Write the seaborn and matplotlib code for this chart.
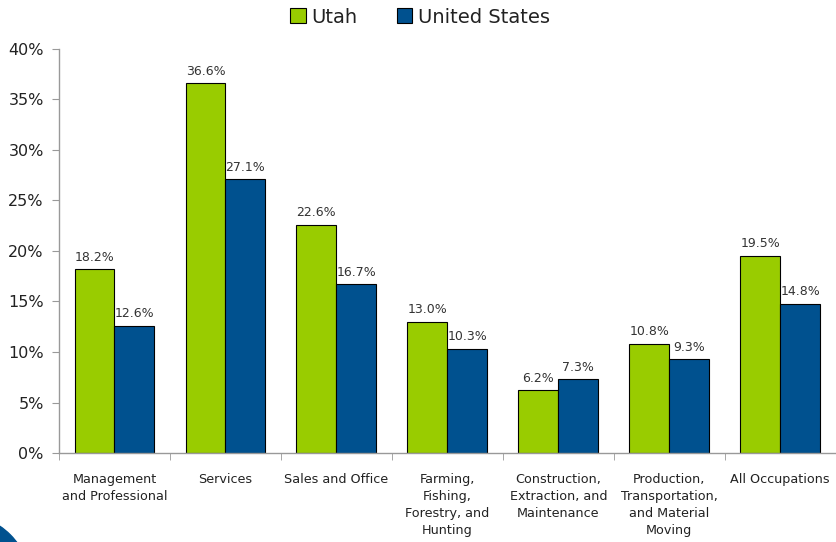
# Occupation shares: Utah vs United States

import pandas as pd
import matplotlib
matplotlib.use("Agg")
import matplotlib.pyplot as plt
import seaborn as sns
from matplotlib.ticker import FuncFormatter, FixedLocator
from matplotlib.patches import Circle
from matplotlib.transforms import IdentityTransform

categories = [
    "Management\nand Professional",
    "Services",
    "Sales and Office",
    "Farming,\nFishing,\nForestry, and\nHunting",
    "Construction,\nExtraction, and\nMaintenance",
    "Production,\nTransportation,\nand Material\nMoving",
    "All Occupations",
]
utah = [18.2, 36.6, 22.6, 13.0, 6.2, 10.8, 19.5]
us = [12.6, 27.1, 16.7, 10.3, 7.3, 9.3, 14.8]
series = ["Utah", "United States"]
colors = ["#99CC00", "#00518F"]

df = pd.DataFrame({
    "category": categories * 2,
    "value": utah + us,
    "series": [series[0]] * len(categories) + [series[1]] * len(categories),
})

sns.set_style("white")
plt.rcParams["font.family"] = ["DejaVu Sans"]

fig = plt.figure(figsize=(8.36, 5.42), dpi=100)
ax = fig.add_axes([0.0706, 0.164, 0.929, 0.746])

sns.barplot(data=df, x="category", y="value", hue="series", palette=colors,
            saturation=1, width=0.72, edgecolor="black", linewidth=0.8, ax=ax)

for cont in ax.containers:
    ax.bar_label(cont, fmt="%.1f%%", padding=4, fontsize=9, color="#333333")

ax.set_ylim(0, 40)
ax.set_xlim(-0.5, len(categories) - 0.5)
ax.set_yticks(range(0, 41, 5))
ax.yaxis.set_major_formatter(FuncFormatter(lambda v, p: f"{v:.0f}%"))
ax.tick_params(axis="y", labelsize=11.5, length=5, color="#999999", left=True,
               pad=6, labelcolor="#222222")
ax.tick_params(axis="x", which="major", length=0, labelsize=9.2, pad=14,
               labelcolor="#222222")
for lbl in ax.get_xticklabels():
    lbl.set_linespacing(1.4)
ax.xaxis.set_minor_locator(FixedLocator([i - 0.5 for i in range(len(categories) + 1)]))
ax.tick_params(axis="x", which="minor", length=5, color="#999999", bottom=True)
ax.set_xlabel("")
ax.set_ylabel("")

sns.despine(ax=ax)
for s in ["left", "bottom"]:
    ax.spines[s].set_color("#999999")
    ax.spines[s].set_linewidth(1)

handles, labels = ax.get_legend_handles_labels()
ax.legend(handles, labels, loc="upper center", bbox_to_anchor=(0.465, 1.145),
          ncol=2, frameon=False, fontsize=14, handlelength=0.8, handleheight=0.8,
          columnspacing=2.0, handletextpad=0.3, labelcolor="#222222")

# corner decoration (blue arc in bottom-left)
deco = Circle((-40, -43), 71, color="#00518F", transform=IdentityTransform())
fig.add_artist(deco)

fig.savefig("out.png", dpi=100)
